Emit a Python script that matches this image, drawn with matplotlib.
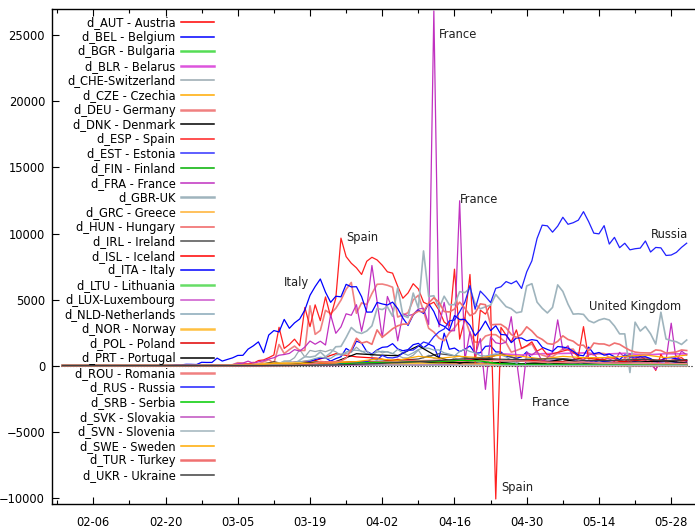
import pandas as pd
import matplotlib
matplotlib.use("Agg")
import matplotlib.pyplot as plt

# daily new cases (ECDC style, europe 2020)
first_report = pd.Timestamp("2020-01-31")
daily_dates = pd.date_range("2020-02-20", "2020-05-31")
grid_dates = pd.to_datetime([
    "2020-02-29", "2020-03-04", "2020-03-08", "2020-03-12", "2020-03-16", "2020-03-20",
    "2020-03-24", "2020-03-28", "2020-04-01", "2020-04-05", "2020-04-09", "2020-04-13",
    "2020-04-17", "2020-04-21", "2020-04-25", "2020-04-29", "2020-05-03", "2020-05-07",
    "2020-05-11", "2020-05-15", "2020-05-19", "2020-05-23", "2020-05-27", "2020-05-31"])

ita = [0, 17, 62, 53, 97, 93, 78, 250, 238, 240,
       566, 342, 466, 587, 769, 778, 1247, 1492, 1797, 977, 2313, 2651, 2547, 3497, 2823, 3233,
       3526, 4207, 5322, 5986, 6557, 5560, 4789, 5249, 5210, 6153, 5959, 5974, 5217, 4050, 4053,
       4782, 4668, 4585, 4805, 4316, 3599, 3039, 3836, 4204, 3951, 4694, 4092, 3153, 2972, 2667,
       3786, 3493, 3491, 3047, 2256, 2729, 3370, 2646, 3021, 2357, 2324, 1739, 2091, 2086, 1872,
       1965, 1900, 1389, 1221, 1075, 1444, 1401, 1327, 1083, 802, 744, 1402, 888, 992, 789, 875,
       675, 451, 813, 665, 642, 652, 669, 531, 300, 397, 584, 593, 516, 416, 355]
esp = [0, 0, 0, 0, 0, 4, 3, 5, 17, 13,
       13, 39, 45, 57, 60, 100, 120, 170, 380, 430, 600, 800, 2900, 1300, 1600, 2000, 1500,
       4400, 2950, 4600, 3400, 5200, 3700, 5100, 9650, 8250, 7750, 7400, 6900, 7900, 8200,
       8000, 7600, 7100, 7000, 6000, 5100, 5500, 6200, 5800, 4800, 4600, 4800, 4200, 3300, 3000,
       7300, 2000, 3500, 6900, 100, 4200, 3900, 4600, -10100, 2900, 2300, 1800, 2700, 1300, 1500,
       1800, 1100, 1300, 800, 900, 1000, 1100, 1200, 1000, 700, 2950, 500, 600, 500, 450, 600,
       550, 300, 300, 600, 500, 700, 480, 470, -370, 850, 200, 300, 500, 600, 300]
fra = [0, 0, 0, 0, 0, 2, 4, 20, 19, 43,
       30, 61, 21, 73, 138, 190, 336, 177, 286, 372, 497, 595, 785, 838, 924, 1210, 1097,
       1404, 1861, 1617, 1847, 1559, 3838, 2446, 2931, 3922, 3809, 4611, 2599, 4376, 7578,
       4861, 2116, 5233, 4267, 1873, 3912, 3777, 3881, 4286, 4342, 3114, 26849, 2937, 4785, 2633,
       2641, 12480, 405, 2569, 785, 2051, -1800, 2183, 1730, 1645, 1773, 3700, 456, -2500, 1000,
       800, 1100, 300, 600, 1000, 3460, 1200, 1500, 600, 300, 450, 800, 900, 400, 600, 500,
       300, 1000, 600, 900, 400, 500, 400, 100, -300, 300, 400, 3210, 300, 1100, 800]
deu = [0, 0, 0, 0, 0, 2, 0, 5, 14, 13,
       51, 29, 37, 66, 220, 188, 129, 241, 136, 281, 451, 170, 1597, 910, 1210, 1477, 1144,
       1144, 4528, 2365, 2660, 4183, 3930, 4337, 4954, 5780, 6294, 3965, 4751, 4615, 5453,
       6156, 6174, 6082, 5936, 3677, 3834, 4003, 4974, 5323, 4133, 2821, 2537, 2082, 1880, 2486,
       2866, 3380, 3609, 2458, 1775, 1785, 2237, 2352, 2337, 2055, 1737, 1018, 1144, 1304, 1478,
       1639, 945, 793, 679, 685, 947, 1284, 1209, 1251, 667, 357, 933, 798, 933, 913, 620,
       583, 342, 513, 797, 745, 460, 638, 431, 289, 432, 362, 353, 741, 286, 396]
gbr = [0, 0, 0, 0, 4, 0, 0, 3, 5, 3,
       12, 4, 11, 34, 30, 48, 43, 67, 48, 52, 83, 138, 130, 342, 342, 152, 407, 676, 643, 714,
       1035, 665, 967, 1427, 1452, 2129, 2885, 2546, 2433, 2619, 3009,
       4324, 4244, 4450, 3735, 5903, 3802, 3634, 5491, 4344, 8681, 5233, 5288, 4342, 5252, 4603,
       4617, 5599, 5525, 5850, 4676, 4301, 4451, 4583, 5386, 4913, 4463, 4309, 3996, 4076, 6032,
       6201, 4806, 4339, 3985, 4406, 6111, 5614, 4649, 3896, 3923, 3877, 3403, 3242, 3446, 3560,
       3451, 3000, 2400, 2400, -525, 3287, 2615, 2959, 2405, 1625, 4043, 2013, 1887, 1805, 1600,
       1936]
rus = [0, 0, 0, 0, 0, 0, 0, 0, 0, 0,
       0, 1, 0, 0, 0, 0, 6, 0, 3, 0, 3, 8, 6, 14, 4, 29, 30, 33, 52, 54,
       53, 62, 71, 57, 163, 182, 196, 228, 270, 302, 500,
       440, 771, 601, 582, 658, 954, 1154, 1175, 1459, 1786, 1667, 2186, 2558, 2774, 3388,
       3448, 4070, 4785, 6060, 4268, 5642, 5236, 4774, 5849, 5966, 6361, 6198, 6411, 5841, 7099,
       7933, 9623, 10633, 10581, 10102, 10559, 11231, 10699, 10817, 11012, 11656, 10899, 10028,
       9974, 10598, 9200, 9709, 8926, 9263, 8764, 8849, 8894, 9434, 8599, 8946, 8915, 8338,
       8371, 8572, 8952, 9268]
tur = [0, 0, 0, 0, 0, 0, 0, 0, 0, 0,
       0, 0, 0, 0, 0, 0, 0, 0, 0, 0, 1, 0, 4, 0, 1, 12, 29, 51, 93, 168,
       311, 277, 289, 293, 343, 561, 1196, 2069, 1704, 1815, 1610,
       2704, 2148, 2456, 2786, 3013, 3135, 3148, 3892, 4117, 4056, 4747, 5138, 4789, 4093, 4062,
       4281, 4801, 4353, 3783, 3977, 4674, 4611, 3083, 3116, 3122, 2861, 2357, 2131, 2392, 2936,
       2615, 2188, 1983, 1670, 1614, 1832, 2253, 1977, 1848, 1546, 1542, 1114, 1704, 1641, 1635,
       1502, 1708, 1610, 1368, 1158, 1022, 972, 961, 952, 1186, 1141, 948, 987, 1035, 1182, 1141]
bel = [0, 0, 0, 0, 0, 0, 0, 0, 0, 0,
       1, 0, 6, 5, 38, 59, 60, 31, 39, 28, 47, 85, 160, 130, 197, 172, 185, 243, 309, 462,
       558, 586, 342, 526, 668, 1298, 1049, 1850, 1702, 1063, 876,
       1189, 1384, 1422, 1661, 1260, 1123, 1209, 1580, 1684, 1351, 1629, 1447, 530, 2454, 1236,
       1329, 1060, 1234, 1487, 933, 973, 1457, 1496, 1032, 1032, 701, 647, 553, 660, 1040,
       516, 456, 361, 323, 345, 452, 496, 467, 373, 287, 263, 341, 274, 362, 299, 279,
       207, 224, 284, 276, 290, 227, 246, 162, 216, 269, 299, 280, 239, 230, 187]
nld = [0, 0, 0, 0, 0, 0, 0, 0, 1, 1,
       5, 8, 6, 5, 44, 46, 60, 77, 56, 61, 121, 111, 190, 155, 176, 278, 292, 346, 409, 534,
       637, 573, 545, 811, 852, 1019, 1172, 1159, 1104, 884, 845,
       1019, 1083, 1026, 904, 1224, 952, 777, 969, 1213, 1335, 1316, 1174, 1188, 964, 868,
       734, 1061, 1235, 1066, 964, 750, 729, 797, 887, 808, 655, 400, 171, 386, 514,
       475, 445, 335, 199, 232, 387, 455, 319, 346, 246, 161, 196, 199, 239, 192, 236,
       133, 111, 176, 184, 209, 184, 187, 152, 159, 122, 171, 194, 136, 204, 176]
che = [0, 0, 0, 0, 0, 1, 0, 7, 5, 0,
       6, 18, 8, 18, 31, 61, 64, 47, 84, 159, 142, 263, 210, 264, 339, 600, 1209, 650, 1150,
       1063, 1148, 1051, 1200, 1044, 774, 925, 1000, 1390, 1048, 1124, 696,
       1163, 962, 1059, 911, 774, 590, 578, 785, 1172, 590, 785, 552, 494, 252, 326,
       583, 401, 346, 348, 204, 119, 205, 228, 221, 181, 216, 103, 120, 143, 179,
       88, 108, 86, 76, 42, 36, 58, 85, 39, 39, 19, 39, 29, 45, 32, 25,
       15, 22, 44, 31, 21, 35, 36, 10, 11, 15, 9, 27, 28, 14, 20]

# smaller countries, every 4th day
aut = [0, 5, 25, 110, 260, 375, 900, 660, 560, 240, 290, 240, 130, 80, 70, 50, 30, 50, 20, 40, 30, 30, 15, 20]
bgr = [0, 0, 2, 2, 30, 20, 40, 30, 40, 30, 30, 25, 50, 40, 70, 60, 35, 50, 40, 40, 25, 45, 15, 25]
blr = [0, 0, 1, 5, 10, 15, 20, 40, 60, 150, 200, 250, 400, 520, 900, 800, 900, 920, 960, 870, 930, 800, 900, 880]
cze = [0, 3, 12, 30, 90, 180, 310, 260, 220, 240, 200, 120, 100, 80, 70, 50, 40, 50, 40, 60, 40, 30, 50, 40]
dnk = [0, 4, 10, 270, 50, 100, 160, 230, 280, 290, 330, 200, 250, 180, 230, 130, 180, 140, 80, 70, 60, 50, 40, 40]
est = [0, 1, 3, 18, 45, 50, 60, 40, 60, 80, 70, 50, 40, 30, 20, 10, 8, 10, 5, 6, 3, 2, 3, 2]
fin = [0, 2, 10, 50, 30, 80, 70, 90, 100, 130, 170, 120, 110, 100, 140, 100, 90, 80, 50, 60, 40, 20, 30, 20]
grc = [0, 4, 15, 40, 30, 50, 70, 80, 60, 60, 40, 30, 20, 150, 40, 20, 10, 15, 10, 10, 20, 10, 10, 15]
hun = [0, 0, 5, 5, 20, 20, 40, 40, 45, 60, 80, 100, 120, 90, 80, 55, 60, 40, 25, 30, 20, 25, 15, 10]
irl = [0, 1, 10, 40, 90, 120, 220, 300, 320, 390, 500, 900, 700, 400, 900, 400, 300, 250, 140, 100, 65, 50, 60, 50]
isl = [0, 3, 10, 20, 30, 50, 100, 80, 70, 30, 30, 15, 10, 5, 2, 1, 0, 2, 0, 1, 0, 1, 2, 0]
ltu = [0, 0, 0, 2, 10, 30, 40, 60, 40, 50, 60, 40, 50, 30, 20, 20, 15, 20, 15, 30, 10, 15, 10, 5]
lux = [0, 0, 1, 10, 30, 150, 220, 200, 170, 100, 80, 30, 30, 20, 15, 10, 10, 5, 5, 3, 5, 3, 2, 2]
nor = [0, 20, 80, 190, 200, 230, 280, 250, 200, 100, 150, 90, 80, 60, 50, 40, 30, 20, 15, 10, 10, 15, 10, 8]
pol = [0, 0, 2, 15, 50, 110, 180, 300, 240, 470, 380, 260, 370, 460, 380, 430, 330, 310, 600, 400, 320, 440, 390, 380]
prt = [0, 1, 10, 20, 100, 260, 300, 900, 800, 750, 1500, 600, 180, 520, 370, 340, 200, 480, 200, 230, 220, 300, 350, 200]
rou = [0, 1, 2, 20, 30, 60, 120, 200, 260, 290, 360, 400, 350, 360, 380, 350, 260, 240, 270, 200, 190, 200, 150, 150]
srb = [0, 0, 1, 15, 30, 50, 90, 200, 240, 240, 320, 290, 400, 350, 120, 70, 90, 80, 60, 45, 50, 30, 25, 20]
svk = [0, 0, 1, 10, 20, 40, 30, 20, 30, 40, 30, 80, 30, 20, 10, 5, 5, 4, 2, 5, 2, 3, 1, 2]
svn = [0, 0, 10, 50, 40, 50, 50, 60, 40, 30, 40, 30, 20, 20, 10, 5, 8, 4, 3, 2, 2, 1, 1, 2]
swe = [0, 6, 30, 160, 110, 200, 230, 300, 500, 400, 700, 550, 700, 600, 800, 700, 500, 700, 600, 600, 700, 800, 600, 800]
ukr = [0, 0, 0, 2, 10, 30, 50, 100, 150, 230, 300, 380, 500, 570, 480, 450, 500, 520, 390, 370, 430, 480, 350, 450]

labels = ["d_AUT - Austria", "d_BEL - Belgium", "d_BGR - Bulgaria", "d_BLR - Belarus",
          "d_CHE-Switzerland", "d_CZE - Czechia", "d_DEU - Germany", "d_DNK - Denmark",
          "d_ESP - Spain", "d_EST - Estonia", "d_FIN - Finland", "d_FRA - France",
          "d_GBR-UK", "d_GRC - Greece", "d_HUN - Hungary", "d_IRL - Ireland",
          "d_ISL - Iceland", "d_ITA - Italy", "d_LTU - Lithuania", "d_LUX-Luxembourg",
          "d_NLD-Netherlands", "d_NOR - Norway", "d_POL - Poland", "d_PRT - Portugal",
          "d_ROU - Romania", "d_RUS - Russia", "d_SRB - Serbia", "d_SVK - Slovakia",
          "d_SVN - Slovenia", "d_SWE - Sweden", "d_TUR - Turkey", "d_UKR - Ukraine"]
values = [aut, bel, bgr, blr, che, cze, deu, dnk, esp, est, fin, fra, gbr, grc, hun, irl,
          isl, ita, ltu, lux, nld, nor, pol, prt, rou, rus, srb, svk, svn, swe, tur, ukr]
colors = ["#ff0000", "#0000ff", "#55dd55", "#dd55dd", "#99a8b0", "#ffaa00", "#f08080", "#000000",
          "#ff2020", "#3333ff", "#00b000", "#c030c0", "#9fb4bd", "#ffb030", "#f06060", "#505050",
          "#ff0000", "#0000ff", "#66dd66", "#cc55cc", "#88a8b8", "#ffc040", "#e00000", "#000000",
          "#f08080", "#2020ff", "#00cc00", "#c050c0", "#a0b4bc", "#ffaa00", "#f07070", "#404040"]
thick = {"d_BGR - Bulgaria", "d_BLR - Belarus", "d_DEU - Germany", "d_GBR-UK",
         "d_LTU - Lithuania", "d_NOR - Norway", "d_ROU - Romania", "d_TUR - Turkey"}

notes = ["France", "France", "Spain", "Italy", "Russia", "United Kingdom", "France", "Spain"]
note_dates = pd.to_datetime(["2020-04-13", "2020-04-17", "2020-03-26", "2020-03-14",
                             "2020-05-24", "2020-05-12", "2020-05-01", "2020-04-25"])
note_vals = [25100, 12600, 9700, 6300, 9900, 4450, -2800, -9200]

plt.rcParams['font.family'] = ['DejaVu Sans']
fs = 8.3

fig = plt.figure(figsize=(6.95, 5.30), dpi=100)
ax = fig.add_axes([52/695, 26/530, 642/695, 495/530])

ax.axhline(0, color="black", lw=0.8, ls=":", zorder=0)

for lab, vals, col in zip(labels, values, colors):
    x = daily_dates if len(vals) == len(daily_dates) else grid_dates
    xs = [first_report] + list(x)
    ys = [0] + list(vals)
    lw = 1.2 if lab in thick else 0.9
    ax.plot(xs, ys, color=col, lw=lw, label=lab)

for t, d, v in zip(notes, note_dates, note_vals):
    ax.text(d, v, t, fontsize=fs, ha="left", va="center", color="#202020")

ax.set_xlim(pd.Timestamp("2020-01-29"), pd.Timestamp("2020-06-01 10:00"))
ax.set_ylim(-10480, 27000)
ax.set_yticks(range(-10000, 25001, 5000))
ax.set_xticks(pd.date_range("2020-02-06", "2020-05-28", freq="14D"))
ax.set_xticks(pd.date_range("2020-01-30", "2020-05-31", freq="7D"), minor=True)
ax.set_xticklabels([d.strftime("%m-%d") for d in pd.date_range("2020-02-06", "2020-05-28", freq="14D")])

ax.tick_params(axis="both", which="both", direction="in", labelsize=fs, top=True, right=False)
ax.tick_params(axis="both", which="major", length=5, width=0.8)
ax.tick_params(axis="x", which="minor", length=3, width=0.8)
ax.tick_params(axis="x", pad=9)
ax.tick_params(axis="y", pad=5)
ax.spines["right"].set_visible(False)
for s in ["left", "bottom", "top"]:
    ax.spines[s].set_linewidth(1.0)

leg = ax.legend(loc="upper right", bbox_to_anchor=(214/695, 1 - 16/530), bbox_transform=fig.transFigure,
                frameon=False, markerfirst=False, fontsize=fs, borderpad=0, borderaxespad=0,
                handlelength=2.9, handletextpad=0.45, labelspacing=0.14)
for h, lab in zip(leg.get_lines(), labels):
    h.set_linewidth(1.8 if lab in thick else 1.1)

fig.savefig("out.png", dpi=100)
